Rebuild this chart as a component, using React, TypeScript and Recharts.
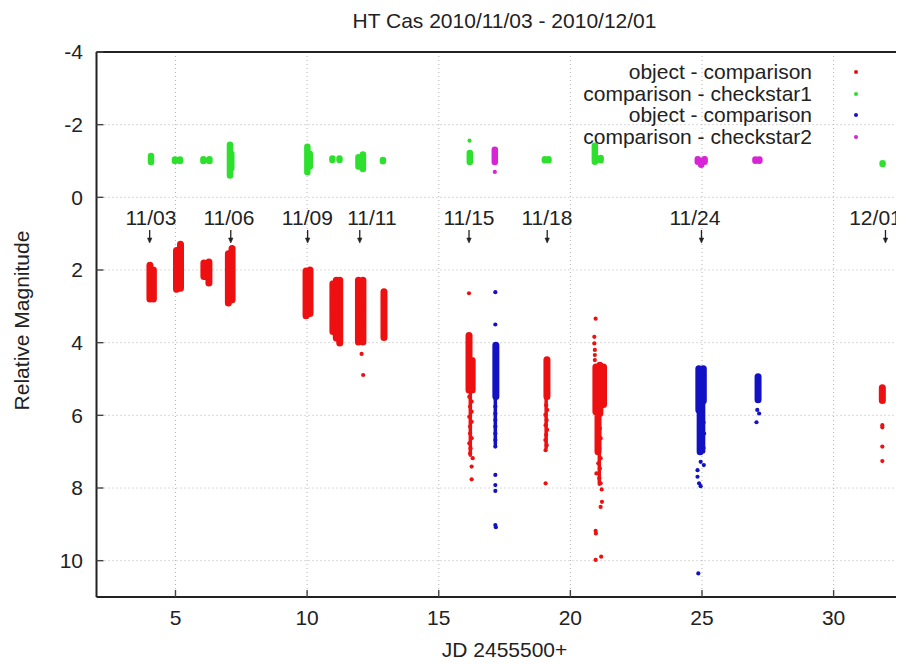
import {
  CartesianGrid,
  ComposedChart,
  Legend,
  Line,
  Scatter,
  XAxis,
  YAxis,
} from "recharts";

const FONT = '"Liberation Sans", Arial, Helvetica, sans-serif';
const INK = "#222";
const FS = 21;

const RED = "#ee1010";
const GREEN = "#2ee02e";
const BLUE = "#1212c4";
const MAGENTA = "#d624d6";

const X_TICKS = [5, 10, 15, 20, 25, 30];
const Y_TICKS = [-4, -2, 0, 2, 4, 6, 8, 10];

// dense runs of observations: [JD offset, top magnitude, bottom magnitude]
const RED_RUNS: [number, number, number][] = [
  [4.03, 1.87, 2.8], [4.16, 2.0, 2.8],
  [5.04, 1.46, 2.53], [5.19, 1.29, 2.5],
  [6.08, 1.81, 2.18], [6.27, 1.78, 2.36],
  [7.01, 1.55, 2.91], [7.15, 1.41, 2.82],
  [9.96, 2.03, 3.26], [10.11, 2.0, 3.2],
  [10.98, 2.38, 3.69], [11.11, 2.28, 3.87], [11.24, 2.28, 4.01],
  [11.95, 2.28, 3.98], [12.12, 2.28, 3.98],
  [12.92, 2.6, 3.86],
  [16.15, 3.8, 5.3], [16.27, 4.49, 5.3],
  [19.11, 4.47, 5.48],
  [20.97, 4.67, 5.9], [21.12, 4.62, 5.95], [21.26, 4.67, 5.7], [21.05, 6.0, 7.0],
  [31.85, 5.24, 5.59],
];

const GREEN_RUNS: [number, number, number][] = [
  [4.07, -1.14, -0.97],
  [4.98, -1.04, -1.0], [5.17, -1.04, -1.0],
  [6.06, -1.05, -1.0], [6.29, -1.05, -1.0],
  [7.07, -1.45, -0.6], [7.12, -1.2, -0.8],
  [10.01, -1.39, -0.69], [10.1, -1.2, -0.85],
  [10.96, -1.07, -1.03], [11.23, -1.07, -1.03],
  [11.95, -1.1, -0.85], [12.12, -1.18, -0.78],
  [12.88, -1.03, -0.99],
  [16.18, -1.22, -0.97],
  [19.03, -1.05, -1.02], [19.17, -1.05, -1.02],
  [20.93, -1.42, -0.98], [21.15, -1.08, -1.02],
  [31.86, -0.94, -0.92],
];

const BLUE_RUNS: [number, number, number][] = [
  [17.17, 4.07, 5.48],
  [24.88, 4.72, 5.85], [25.05, 4.72, 5.6], [24.93, 5.9, 7.0],
  [27.13, 4.94, 5.57],
];

const MAGENTA_RUNS: [number, number, number][] = [
  [17.13, -1.31, -0.97],
  [24.84, -1.05, -0.98], [25.1, -1.05, -0.98], [24.97, -1.0, -0.9],
  [27.03, -1.04, -1.01], [27.18, -1.04, -1.01],
];

// looser tails below the dense runs
const RED_TAILS: [number, number, number][] = [
  [16.2, 5.35, 7.1],
  [19.08, 5.5, 6.9],
  [21.1, 6.0, 7.9],
];

const BLUE_TAILS: [number, number, number][] = [
  [17.15, 5.5, 6.8],
  [25.06, 5.6, 7.0],
];

// sparse single observations: [JD offset, magnitude]
const RED_POINTS: [number, number][] = [
  [12.07, 4.31], [12.13, 4.89],
  [16.15, 2.64],
  [16.16, 5.49], [16.25, 5.62], [16.19, 5.76], [16.25, 5.9], [16.16, 6.04],
  [16.25, 6.18], [16.19, 6.31], [16.19, 6.5], [16.25, 6.63], [16.16, 6.77],
  [16.21, 6.91], [16.19, 7.05], [16.29, 7.18], [16.25, 7.41], [16.25, 7.76],
  [19.08, 5.72], [19.12, 5.85], [19.05, 5.99], [19.1, 6.13], [19.06, 6.27],
  [19.12, 6.4], [19.08, 6.54], [19.05, 6.68], [19.1, 6.82], [19.06, 6.96],
  [19.06, 7.87],
  [20.96, 3.34], [20.91, 3.84], [20.91, 4.02], [20.93, 4.2], [20.93, 4.34], [20.93, 4.48],
  [21.12, 6.36], [21.15, 6.63], [21.1, 6.91], [21.15, 7.18], [21.06, 7.32],
  [21.12, 7.46], [20.99, 7.6], [21.1, 7.73], [21.15, 7.87], [21.19, 8.04],
  [21.2, 8.38], [21.15, 8.52], [20.96, 9.18], [20.97, 9.25], [20.96, 9.98], [21.17, 9.89],
  [31.85, 6.27], [31.85, 6.33], [31.85, 6.86], [31.85, 7.26],
];

const GREEN_POINTS: [number, number][] = [[16.17, -1.56]];

const BLUE_POINTS: [number, number][] = [
  [17.15, 2.61], [17.15, 3.5],
  [17.15, 5.76], [17.15, 5.95], [17.15, 6.13], [17.15, 6.31], [17.15, 6.5],
  [17.15, 6.68], [17.15, 6.86], [17.15, 7.64], [17.15, 7.92], [17.15, 8.08],
  [17.15, 9.02], [17.17, 9.08],
  [25.06, 6.2], [25.08, 6.5], [25.06, 6.9],
  [24.95, 7.28], [25.07, 7.37], [24.83, 7.51], [24.83, 7.69], [24.89, 7.87],
  [24.95, 7.95], [24.86, 10.35],
  [27.1, 5.85], [27.17, 5.95], [27.07, 6.19],
];

const MAGENTA_POINTS: [number, number][] = [[17.13, -0.7]];

// night markers above the light curve
const NIGHTS = ["11/03", "11/06", "11/09", "11/11", "11/15", "11/18", "11/24", "12/01"];
const NIGHT_LABEL_X = [4.07, 7.03, 10.01, 12.46, 16.15, 19.11, 24.73, 31.59];
const NIGHT_ARROW_X = [4.02, 7.1, 10.02, 12.0, 16.15, 19.12, 24.98, 31.97];
const NIGHT_LABEL_MAG = 0.55;
const NIGHT_ARROW_MAG = 0.9;

const LEGEND_NAMES = [
  "object - comparison",
  "comparison - checkstar1",
  "object - comparison",
  "comparison - checkstar2",
];
const LEGEND_COLORS = [RED, GREEN, BLUE, MAGENTA];

const toRuns = (runs: [number, number, number][]) =>
  runs.flatMap(([x, top, bottom]) => [
    { x, y: top },
    { x, y: bottom },
    { x, y: null },
  ]);

const toPoints = (pts: [number, number][]) => pts.map(([x, y]) => ({ x, y }));

const nightLabels = NIGHTS.map((label, i) => ({ x: NIGHT_LABEL_X[i], y: NIGHT_LABEL_MAG, label }));
const nightArrows = NIGHT_ARROW_X.map((x) => ({ x, y: NIGHT_ARROW_MAG }));

const dot = (color: string) => (p: any) =>
  <circle cx={p.cx} cy={p.cy} r={2.1} fill={color} />;

const NightText = (p: any) => (
  <text x={p.cx} y={p.cy} dy={7.5} textAnchor="middle" fontSize={FS} fontFamily={FONT} fill={INK}>
    {p.payload.label}
  </text>
);

const NightArrow = (p: any) => (
  <g stroke={INK} strokeWidth={1.3} fill={INK}>
    <line x1={p.cx} x2={p.cx} y1={p.cy} y2={p.cy + 9} />
    <path d={`M${p.cx - 2.2},${p.cy + 8} L${p.cx + 2.2},${p.cy + 8} L${p.cx},${p.cy + 13} Z`} strokeWidth={0.6} />
  </g>
);

const LegendBox = () => (
  <div style={{ fontFamily: FONT, fontSize: FS, color: INK, lineHeight: "21.7px" }}>
    {LEGEND_NAMES.map((name, i) => (
      <div key={i} style={{ display: "flex", alignItems: "center" }}>
        <span style={{ width: 244, textAlign: "right", whiteSpace: "nowrap" }}>{name}</span>
        <span
          style={{
            display: "inline-block",
            width: 4,
            height: 4,
            borderRadius: 2,
            marginLeft: 42,
            background: LEGEND_COLORS[i],
          }}
        />
      </div>
    ))}
  </div>
);

const runLine = (runs: [number, number, number][], color: string, width: number, key: string) => (
  <Line
    key={key}
    data={toRuns(runs)}
    dataKey="y"
    stroke={color}
    strokeWidth={width}
    strokeLinecap="round"
    dot={false}
    activeDot={false}
    connectNulls={false}
    legendType="none"
    isAnimationActive={false}
  />
);

const pointSet = (pts: [number, number][], color: string, key: string) => (
  <Scatter
    key={key}
    data={toPoints(pts)}
    dataKey="y"
    shape={dot(color)}
    legendType="none"
    isAnimationActive={false}
  />
);

export default function App() {
  return (
    <div
      style={{
        position: "relative",
        width: 896,
        height: 655,
        overflow: "hidden",
        fontFamily: FONT,
        background: "#fff",
      }}
    >
      <div
        style={{
          position: "absolute",
          left: 88.5,
          width: 816,
          top: 1.5,
          textAlign: "center",
          fontSize: FS,
          lineHeight: `${FS}px`,
          color: INK,
          zIndex: 1,
        }}
      >
        HT Cas 2010/11/03 - 2010/12/01
      </div>
      <ComposedChart width={920} height={655} margin={{ top: 44, right: 15.4, bottom: 0, left: 0 }}>
        <CartesianGrid stroke="#b4b4b4" strokeDasharray="1 3" />
        <XAxis
          dataKey="x"
          type="number"
          domain={[2, 33]}
          ticks={X_TICKS}
          allowDataOverflow
          height={66}
          tickSize={-7}
          tickMargin={20}
          axisLine={{ stroke: INK, strokeWidth: 2 }}
          tickLine={{ stroke: "#444", strokeWidth: 1.4 }}
          tick={{ fontSize: FS, fill: INK, fontFamily: FONT }}
          label={(props: any) => {
            const vb = props.viewBox;
            return (
              <text x={vb.x + vb.width / 2} y={vb.y + vb.height - 6} textAnchor="middle" fontSize={FS} fontFamily={FONT} fill={INK}>
                JD 2455500+
              </text>
            );
          }}
        />
        <XAxis
          xAxisId="top"
          dataKey="x"
          type="number"
          orientation="top"
          mirror
          domain={[2, 33]}
          ticks={X_TICKS}
          allowDataOverflow
          tickSize={7}
          tick={false}
          axisLine={{ stroke: INK, strokeWidth: 2 }}
          tickLine={{ stroke: "#444", strokeWidth: 1.4 }}
        />
        <YAxis
          dataKey="y"
          type="number"
          reversed
          domain={[-4, 11]}
          ticks={Y_TICKS}
          allowDataOverflow
          width={88.5}
          tickSize={-7}
          tickMargin={20.5}
          axisLine={{ stroke: INK, strokeWidth: 2 }}
          tickLine={{ stroke: "#444", strokeWidth: 1.4 }}
          tick={{ fontSize: FS, fill: INK, fontFamily: FONT }}
          label={(props: any) => {
            const vb = props.viewBox;
            const cx = 21;
            const cy = vb.y + vb.height / 2 - 4;
            return (
              <text x={cx} y={cy} transform={`rotate(-90 ${cx} ${cy})`} textAnchor="middle" fontSize={FS} fontFamily={FONT} fill={INK}>
                Relative Magnitude
              </text>
            );
          }}
        />
        <Legend
          layout="vertical"
          align="center"
          verticalAlign="middle"
          wrapperStyle={{ top: 53, left: 560, width: 320 }}
          content={() => <LegendBox />}
        />
        {runLine(GREEN_RUNS, GREEN, 6.5, "gr")}
        {runLine(MAGENTA_RUNS, MAGENTA, 6.5, "mr")}
        {runLine(RED_TAILS, RED, 3.5, "rt")}
        {runLine(BLUE_TAILS, BLUE, 3.5, "bt")}
        {runLine(RED_RUNS, RED, 7, "rr")}
        {runLine(BLUE_RUNS, BLUE, 7, "br")}
        {pointSet(GREEN_POINTS, GREEN, "gp")}
        {pointSet(MAGENTA_POINTS, MAGENTA, "mp")}
        {pointSet(RED_POINTS, RED, "rp")}
        {pointSet(BLUE_POINTS, BLUE, "bp")}
        <Scatter data={nightLabels} dataKey="y" shape={NightText} legendType="none" isAnimationActive={false} />
        <Scatter data={nightArrows} dataKey="y" shape={NightArrow} legendType="none" isAnimationActive={false} />
      </ComposedChart>
    </div>
  );
}
